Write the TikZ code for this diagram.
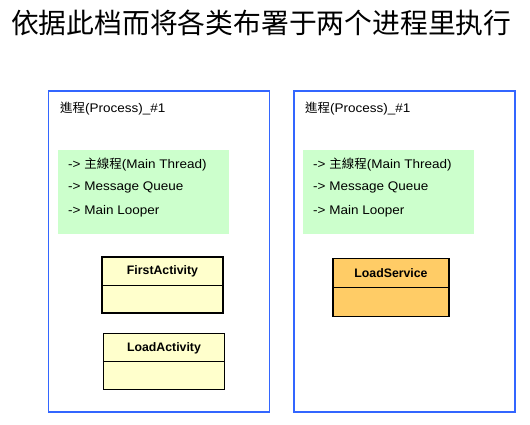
\documentclass[tikz,border=0pt]{standalone}
\usepackage{fontspec}
\setmainfont{Liberation Sans}
\newfontfamily\widesans[FakeStretch=1.08]{Liberation Sans}
\newfontfamily\cjksc{Noto Sans CJK SC}
\newfontfamily\cjktc{Noto Sans CJK TC}
\usepackage{xcolor}
\definecolor{procblue}{RGB}{51,102,255}
\definecolor{loopgreen}{RGB}{204,255,204}
\definecolor{clsyellow}{RGB}{255,255,204}
\definecolor{srvorange}{RGB}{255,204,102}

\begin{document}
\begin{tikzpicture}[x=1pt,y=-1pt]
      \useasboundingbox (0,0) rectangle (530,425);
      \tikzset{P/.style = {shape=rectangle, draw=procblue, line width=1.6pt, minimum width=221pt, minimum height=321pt, inner sep=0pt}}
      \tikzset{Q/.style = {shape=rectangle, fill=loopgreen, minimum width=171pt, minimum height=84pt, inner sep=0pt}}
      \tikzset{C/.style = {shape=rectangle, draw, line width=1.2pt, minimum width=121pt, minimum height=56pt, inner sep=0pt}}
      \tikzset{T/.style = {anchor=west, inner sep=0pt, font=\fontsize{12.5}{14}\selectfont\widesans}}
      \tikzset{N/.style = {inner sep=0pt, font=\fontsize{12.3}{14}\selectfont\bfseries}}
      \node[anchor=west,inner sep=0pt,font=\fontsize{27.8}{30}\selectfont\cjksc](title) at (11,23) {依据此档而将各类布署于两个进程里执行};
      % process 1
      \node[P](p1) at (159,251.5) {};
      \node[T](p1name) at (60,109) {{\cjktc 進程}(Process)\_\#1};
      \node[Q](q1) at (143.5,192) {};
      \node[T](q1a) at (68,164.5) {-> {\cjktc 主線程}(Main Thread)};
      \node[T](q1b) at (68,187.5) {-> Message Queue};
      \node[T](q1c) at (68,211) {-> Main Looper};
      \node[C,fill=clsyellow](first) at (162.5,285) {};
      \draw[line width=0.8pt](first.west) to (first.east);
      \node[N](firstname) at (162.5,271.5) {FirstActivity};
      \node[C,fill=clsyellow](loada) at (164,361.5) {};
      \draw[line width=0.8pt](loada.west) to (loada.east);
      \node[N](loadaname) at (164,348) {LoadActivity};
      % process 2
      \node[P](p2) at (404.5,251.5) {};
      \node[T](p2name) at (305,109) {{\cjktc 進程}(Process)\_\#1};
      \node[Q](q2) at (388.5,192) {};
      \node[T](q2a) at (313,164.5) {-> {\cjktc 主線程}(Main Thread)};
      \node[T](q2b) at (313,187.5) {-> Message Queue};
      \node[T](q2c) at (313,211) {-> Main Looper};
      \node[C,fill=srvorange,minimum width=116pt,minimum height=58pt](loads) at (391,287.5) {};
      \draw[line width=0.8pt](loads.west) to (loads.east);
      \node[N](loadsname) at (391,273.5) {LoadService};
\end{tikzpicture}
\end{document}
